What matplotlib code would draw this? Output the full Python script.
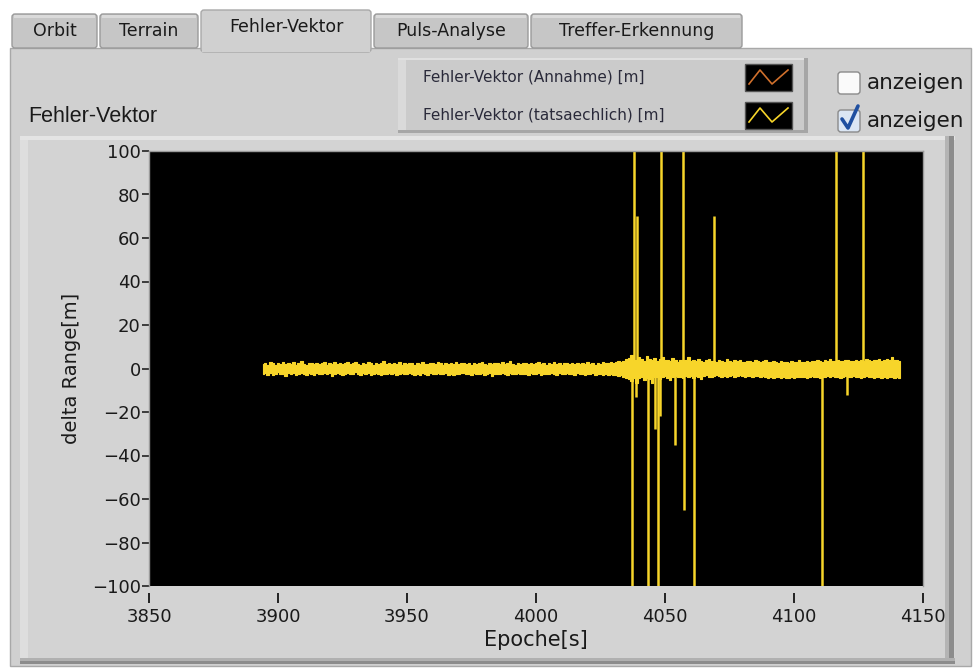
import numpy as np
import matplotlib
matplotlib.use("Agg")
import matplotlib.pyplot as plt
from matplotlib.patches import Rectangle, FancyBboxPatch
from matplotlib.lines import Line2D
from matplotlib import font_manager

# ---------------- data ----------------
epoch_start = 3894.0
epoch_step = 1.0
# envelope of the dense error band (upper / lower edge per second)
band_upper_pre = [
    2.1, 2.6, 1.8, 2.9, 2.3, 1.6, 2.7, 2.2, 3.1, 1.9,
    2.4, 2.0, 2.8, 1.7, 2.5, 3.3, 2.1, 1.8, 2.6, 2.3,
    1.9, 2.7, 2.2, 2.5, 3.0, 1.8, 2.4, 2.1, 2.9, 2.2,
    2.6, 1.9, 2.3, 2.8, 2.0, 2.5, 3.2, 2.1, 1.7, 2.6,
    2.2, 2.9, 2.4, 1.8, 2.7, 2.1, 2.5, 3.4, 2.0, 2.3,
    1.9, 2.6, 2.2, 2.8, 1.7, 2.4, 2.0, 2.7, 2.3, 1.8,
    2.5, 2.1, 2.9, 2.2, 1.9, 2.6, 2.3, 2.0, 2.8, 2.4,
    1.8, 2.5, 2.1, 2.7, 2.2, 3.0, 1.9, 2.4, 2.6, 2.0,
    2.3, 1.8, 2.7, 2.1, 2.5, 2.9, 2.2, 1.7, 2.4, 2.0,
    2.6, 2.3, 1.9, 2.8, 2.1, 2.4, 3.6, 2.2, 1.8, 2.5,
    2.0, 2.7, 2.3, 1.9, 2.6, 2.1, 2.4, 2.8, 2.0, 2.3,
    1.7, 2.5, 2.2, 2.9, 2.0, 2.4, 1.8, 2.6, 2.3, 2.1,
    2.7, 2.0, 2.4, 1.9, 2.5, 2.2, 2.8, 2.1, 2.3, 1.8,
    2.6, 2.2, 2.9, 2.4, 2.7, 3.1, 2.5, 2.8, 3.3, 3.0,
    3.6, 4.2,
]
band_lower_pre = [
    -2.4, -1.9, -2.8, -2.2, -3.0, -2.5, -1.8, -2.7, -2.3, -3.3,
    -2.1, -2.6, -2.0, -2.9, -2.4, -1.9, -2.7, -3.1, -2.2, -2.5,
    -2.8, -2.0, -2.6, -2.3, -1.9, -2.7, -2.2, -3.4, -2.5, -2.1,
    -2.6, -2.9, -2.3, -2.0, -2.7, -2.4, -1.8, -2.6, -3.0, -2.2,
    -2.5, -2.1, -2.8, -2.4, -2.0, -2.6, -3.2, -2.3, -2.7, -2.1,
    -2.4, -2.0, -2.9, -2.5, -2.2, -2.7, -2.4, -1.9, -2.6, -3.1,
    -2.3, -2.8, -2.1, -2.5, -2.9, -2.2, -2.6, -2.4, -2.0, -2.7,
    -2.5, -2.1, -2.8, -2.3, -3.0, -2.4, -2.6, -2.2, -1.9, -2.7,
    -2.4, -2.9, -2.1, -2.6, -2.3, -2.0, -2.8, -2.5, -2.2, -3.3,
    -2.6, -2.3, -2.7, -2.1, -2.5, -2.9, -2.2, -2.6, -2.4, -2.0,
    -2.7, -2.3, -2.5, -3.0, -2.2, -2.6, -2.4, -2.1, -2.8, -2.5,
    -2.3, -2.7, -2.0, -2.5, -2.9, -2.2, -2.6, -2.4, -2.1, -2.7,
    -2.4, -2.8, -2.2, -2.6, -2.3, -3.1, -2.5, -2.7, -2.2, -2.9,
    -2.6, -2.4, -2.8, -2.5, -3.0, -2.7, -3.2, -2.9, -3.4, -3.1,
    -3.8, -4.5,
]
band_upper_post = [
    4.6, 6.2, 4.1, 3.8, 5.2, 4.4, 3.6, 5.8, 4.2, 3.9,
    4.7, 3.5, 4.3, 5.1, 3.8, 4.0, 3.4, 4.6, 3.7, 3.2,
    4.1, 3.6, 3.9, 5.4, 3.3, 3.8, 3.5, 4.2, 3.4, 3.1,
    3.7, 4.5, 3.3, 3.6, 3.0, 3.9, 3.4, 3.2, 4.4, 3.5,
    3.1, 3.8, 3.3, 4.0, 3.2, 2.9, 3.6, 3.4, 3.1, 3.7,
    3.5, 3.0, 3.3, 4.1, 3.2, 2.8, 3.4, 3.0, 2.7, 3.3,
    2.9, 3.1, 2.6, 3.4, 2.8, 3.0, 3.7, 2.9, 3.2, 3.5,
    3.1, 3.6, 3.3, 3.9, 3.4, 3.2, 3.8, 3.5, 4.3, 3.6,
    3.4, 3.9, 3.5, 3.3, 3.7, 4.1, 3.6, 3.4, 3.8, 3.5,
    3.9, 3.6, 4.2, 3.7, 3.5, 4.0, 3.8, 4.5, 3.6, 3.9,
    4.4, 3.7, 5.3, 4.1, 3.8, 3.5,
]
band_lower_post = [
    -4.8, -5.6, -4.2, -6.5, -4.5, -3.9, -5.1, -4.3, -4.9, -6.8,
    -4.1, -3.7, -4.6, -4.0, -3.6, -4.4, -5.2, -3.8, -3.5, -4.1,
    -3.7, -4.5, -3.4, -3.9, -3.6, -4.2, -3.3, -3.8, -4.6, -3.5,
    -3.2, -3.7, -4.0, -3.4, -3.1, -3.6, -3.9, -3.3, -3.7, -3.5,
    -3.2, -3.8, -3.4, -3.1, -3.6, -3.9, -3.5, -3.3, -3.7, -3.4,
    -3.6, -3.9, -3.5, -3.8, -4.2, -3.9, -4.4, -4.1, -3.8, -4.3,
    -4.0, -4.5, -4.2, -3.9, -4.3, -4.0, -3.7, -4.1, -3.8, -4.2,
    -3.9, -3.6, -4.0, -3.7, -4.4, -3.8, -4.1, -3.5, -3.9, -3.6,
    -4.0, -3.7, -4.2, -3.8, -3.5, -4.1, -3.8, -3.6, -4.0, -3.7,
    -4.3, -3.9, -3.6, -4.1, -3.8, -4.4, -4.0, -3.7, -4.2, -3.9,
    -4.3, -4.0, -3.8, -4.5, -4.1, -4.4,
]
# outlier spikes (epoch, value); |value| > 100 is off-scale
spike_t = [4037.4, 4038.0, 4038.6, 4039.3, 4043.5, 4046.2, 4047.3, 4047.9,
           4048.3, 4053.7, 4057.1, 4057.3, 4061.2, 4068.9, 4111.0, 4116.2,
           4120.7, 4126.9]
spike_v = [-120, 120, -13, 70, -120, -28, -120, -22,
           120, -35, 120, -65, -120, 70, -120, 120,
           -12, 120]

xticks = [3850, 3900, 3950, 4000, 4050, 4100, 4150]
yticks = [100, 80, 60, 40, 20, 0, -20, -40, -60, -80, -100]

tabs = ["Orbit", "Terrain", "Fehler-Vektor", "Puls-Analyse", "Treffer-Erkennung"]
legend_labels = ["Fehler-Vektor (Annahme) [m]", "Fehler-Vektor (tatsaechlich) [m]"]

YELLOW = "#f7d52a"
ORANGE = "#d0702c"

_names = {f.name for f in font_manager.fontManager.ttflist}
if "Liberation Sans Narrow" in _names:
    NARROW, TAB_FS, CHK_FS = "Liberation Sans Narrow", 15, 17.5
else:
    NARROW, TAB_FS, CHK_FS = "DejaVu Sans", 12.5, 15.5

W, H = 976, 669
fig = plt.figure(figsize=(W / 100, H / 100), dpi=100)
fig.patch.set_facecolor("white")

bg = fig.add_axes([0, 0, 1, 1])
bg.set_xlim(0, W)
bg.set_ylim(H, 0)
bg.axis("off")

PANEL = "#d0d0d0"
bg.add_patch(Rectangle((10, 48), 961, 618, facecolor=PANEL, edgecolor="#a8a8a8", lw=1))
tab_x = [(12, 97), (100, 198), (201, 371), (374, 528), (531, 742)]
for i, (name, (x0, x1)) in enumerate(zip(tabs, tab_x)):
    if i == 2:
        bg.add_patch(FancyBboxPatch((x0, 10), x1 - x0, 42,
                                    boxstyle="round,pad=0,rounding_size=3",
                                    facecolor=PANEL, edgecolor="#a8a8a8", lw=1))
        bg.add_patch(Rectangle((x0 + 1, 46), x1 - x0 - 2, 6, facecolor=PANEL, edgecolor="none"))
        bg.text((x0 + x1) / 2, 27, name, ha="center", va="center", fontsize=TAB_FS,
                family=NARROW, color="#1a1a1a")
    else:
        bg.add_patch(FancyBboxPatch((x0, 14), x1 - x0, 34,
                                    boxstyle="round,pad=0,rounding_size=3",
                                    facecolor="#c6c6c6", edgecolor="#9a9a9a", lw=1))
        bg.add_patch(Rectangle((x0 + 2, 15), x1 - x0 - 4, 3, facecolor="#dadada", edgecolor="none"))
        bg.text((x0 + x1) / 2, 31, name, ha="center", va="center", fontsize=TAB_FS,
                family=NARROW, color="#1a1a1a")

bg.text(28, 116, "Fehler-Vektor", ha="left", va="center", fontsize=15.5, color="#1a1a1a",
        family=["Liberation Sans", "DejaVu Sans"])

# graph frame with bevel
bg.add_patch(Rectangle((20, 136), 935, 528, facecolor="#d3d3d3", edgecolor="none"))
bg.add_patch(Rectangle((20, 136), 8, 528, facecolor="#dedede", edgecolor="none"))
bg.add_patch(Rectangle((20, 136), 935, 4, facecolor="#e4e4e4", edgecolor="none"))
bg.add_patch(Rectangle((945, 136), 4, 528, facecolor="#b4b4b4", edgecolor="none"))
bg.add_patch(Rectangle((949, 136), 5, 528, facecolor="#8c8c8c", edgecolor="none"))
bg.add_patch(Rectangle((20, 658), 935, 3, facecolor="#b0b0b0", edgecolor="none"))
bg.add_patch(Rectangle((20, 661), 935, 3, facecolor="#8c8c8c", edgecolor="none"))

# legend box
bg.add_patch(Rectangle((398, 58), 410, 75, facecolor="#cbcbcb", edgecolor="none"))
bg.add_patch(Rectangle((398, 58), 8, 75, facecolor="#dadada", edgecolor="none"))
bg.add_patch(Rectangle((398, 58), 410, 2, facecolor="#e0e0e0", edgecolor="none"))
bg.add_patch(Rectangle((804, 58), 4, 75, facecolor="#a6a6a6", edgecolor="none"))
bg.add_patch(Rectangle((398, 130), 410, 3, facecolor="#a6a6a6", edgecolor="none"))
for i, (lab, col) in enumerate(zip(legend_labels, [ORANGE, YELLOW])):
    yc = 77 + i * 38
    bg.text(423, yc, lab, ha="left", va="center", fontsize=11, color="#2a2a3a")
    bg.add_patch(Rectangle((745, yc - 13), 47, 27, facecolor="black", edgecolor="#555555", lw=1))
    bg.add_line(Line2D([749, 760, 772, 788], [yc + 7, yc - 7, yc + 7, yc - 7], color=col, lw=1.2))

# checkboxes
for i in range(2):
    yc = 83 + i * 38
    bg.add_patch(FancyBboxPatch((838, yc - 11), 22, 22, boxstyle="round,pad=0,rounding_size=3",
                                facecolor="#fafafa" if i == 0 else "#dbe6f4",
                                edgecolor="#8a8a8a", lw=1))
    bg.text(867, yc, "anzeigen", ha="left", va="center", fontsize=CHK_FS, family=NARROW,
            color="#1a1a1a")
bg.add_line(Line2D([842, 848, 858], [119, 128, 106], color="#1f4fa0", lw=2.6,
                   solid_capstyle="round"))

# ---------------- plot ----------------
L, R, T, B = 149, 923, 151, 586
ax = fig.add_axes([L / W, (H - B) / H, (R - L) / W, (B - T) / H])
ax.set_facecolor("black")

upper = np.array(band_upper_pre + band_upper_post)
lower = np.array(band_lower_pre + band_lower_post)
t = epoch_start + epoch_step * np.arange(len(upper))
ax.vlines(spike_t, 0, spike_v, colors=YELLOW, lw=1.8, zorder=2)
ax.fill_between(t, lower, upper, step="mid", facecolor=YELLOW, edgecolor=YELLOW,
                lw=0.8, zorder=3)

ax.set_xlim(xticks[0], xticks[-1])
ax.set_ylim(yticks[-1], yticks[0])
ax.set_xticks(xticks)
ax.set_yticks(yticks)
ax.set_yticklabels([str(v).replace("-", "\u2212") for v in yticks])

for s in ax.spines.values():
    s.set_color("#9a9a9a")
    s.set_linewidth(1)
ax.spines["bottom"].set_position(("outward", 5))
ax.spines["bottom"].set_visible(False)

ax.tick_params(axis="y", direction="out", length=5, width=1.2, color="#222222",
               labelsize=13, pad=1, labelcolor="#1a1a1a")
ax.tick_params(axis="x", direction="out", length=7, width=1.4, color="#222222",
               labelsize=13, pad=4, labelcolor="#1a1a1a")

ax.set_xlabel("Epoche[s]", fontsize=15, color="#1a1a1a", labelpad=3)
ax.set_ylabel("delta Range[m]", fontsize=14, color="#1a1a1a", labelpad=8)

fig.savefig("out.png", dpi=100, facecolor=fig.get_facecolor())
